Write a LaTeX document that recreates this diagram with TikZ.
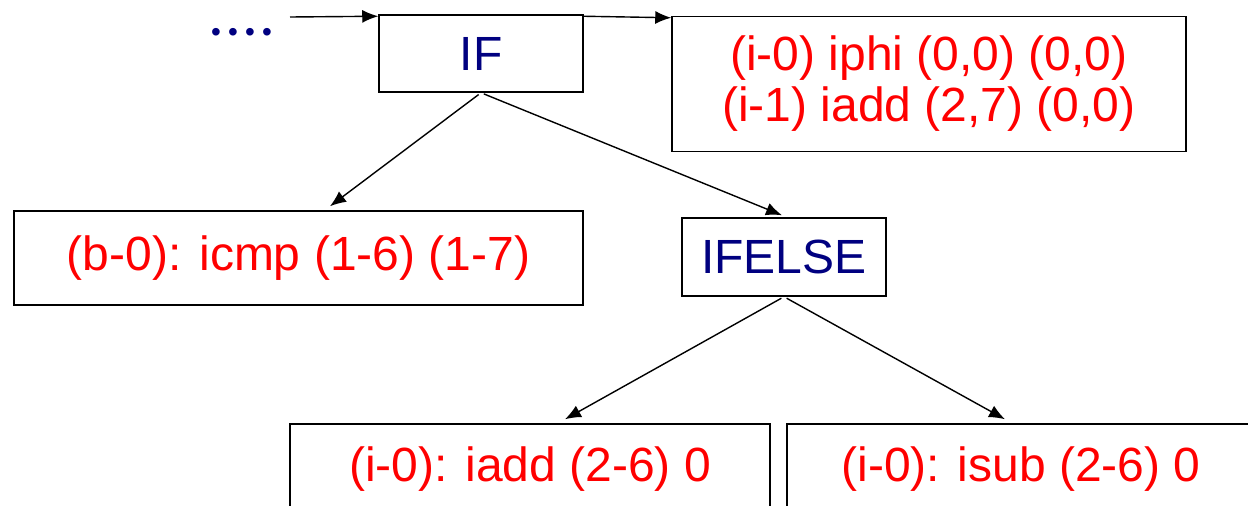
\documentclass[tikz,border=0pt]{standalone}
\usepackage{fontspec}
\setmainfont{Liberation Sans}
\usetikzlibrary{arrows.meta}
\definecolor{navytext}{RGB}{0,0,128}
\definecolor{redtext}{RGB}{255,0,0}
\begin{document}
\begin{tikzpicture}[x=1pt,y=-1pt,
  box/.style={draw=black, line width=1.5pt, fill=white, inner sep=0pt, align=center,
    font=\fontsize{48}{51}\selectfont},
  navybox/.style={box, text=navytext},
  redbox/.style={box, text=redtext},
  conn/.style={line width=1.4pt, -{Latex[length=16pt,width=13pt]}},
  link/.style={conn, shorten <=3pt}]
\useasboundingbox (0,0) rectangle (1248,506);
\clip (0,0) rectangle (1248,506);
\node[navybox, minimum width=204pt, minimum height=77pt] (if) at (481,53.5) {IF};
\node[redbox, minimum width=514pt, minimum height=135pt] (tr) at (929,84)
  {(i-0) iphi (0,0) (0,0)\\(i-1) iadd (2,7) (0,0)};
\node[redbox, minimum width=569pt, minimum height=94pt] (b0) at (298.5,258) {(b-0): icmp (1-6) (1-7)};
\node[navybox, minimum width=204pt, minimum height=78pt] (ifelse) at (784,257) {IFELSE};
\node[redbox, minimum width=480pt, minimum height=90pt] (bl) at (530,469) {(i-0): iadd (2-6) 0};
\node[redbox, minimum width=468pt, minimum height=90pt] (br) at (1021,469) {(i-0): isub (2-6) 0};
\node[anchor=base west, inner sep=0pt, text height=14pt, text depth=0pt, text=navytext,
  font=\fontsize{28}{28}\selectfont] (dots) at (211,41)
  {•\hspace{7.2pt}•\hspace{7.2pt}•\hspace{7.2pt}•};
\coordinate (in) at (290,17);
\draw[conn] (in) -- ([yshift=-2pt]if.north west);
\draw[conn] ([yshift=-2pt]if.north east) -- ([yshift=-2pt]tr.north west);
\draw[link] (if.south) -- ([xshift=31.5pt,yshift=4pt]b0.north);
\draw[link] (if.south) -- ([xshift=-2pt,yshift=2pt]ifelse.north);
\draw[link] (ifelse.south) -- ([xshift=35pt,yshift=4pt]bl.north);
\draw[link] (ifelse.south) -- ([xshift=-16pt,yshift=4pt]br.north);
\end{tikzpicture}
\end{document}
